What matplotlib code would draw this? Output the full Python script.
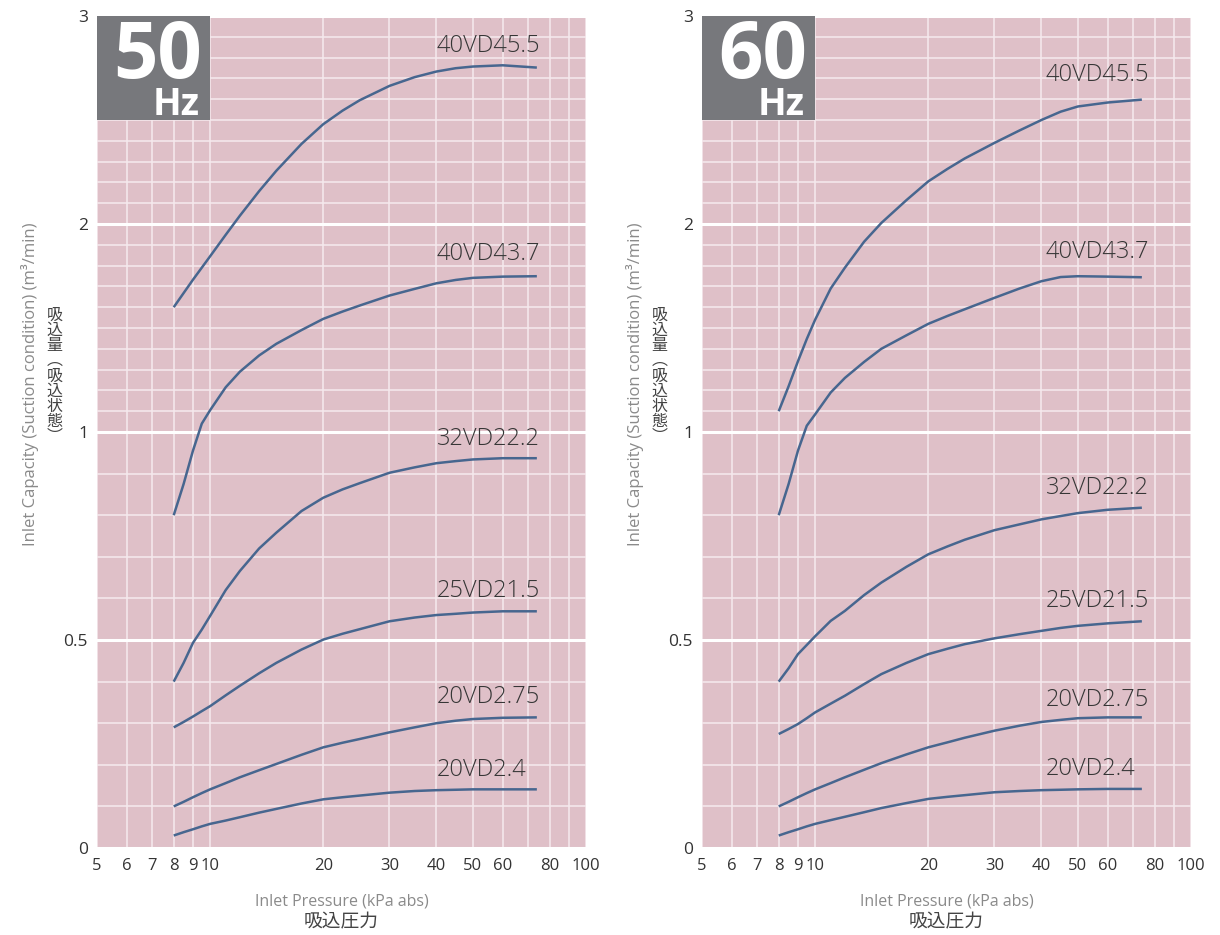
import numpy as np
import matplotlib
matplotlib.use("Agg")
import matplotlib.pyplot as plt
from matplotlib.patches import Rectangle
from matplotlib.ticker import FixedLocator, FixedFormatter

plt.rcParams['font.family'] = ['Open Sans', 'DejaVu Sans']

# ---------------- data ----------------
models = ["40VD45.5", "40VD43.7", "32VD22.2", "25VD21.5", "20VD2.75", "20VD2.4"]
pressure = [8, 8.5, 9, 9.5, 10, 11, 12, 13.5, 15, 17.5, 20, 22.5, 25, 30, 35, 40, 45, 50, 60, 74]  # kPa abs

# 50 Hz capacities (m3/min)
hz50_40VD455 = [1.60, 1.668, 1.732, 1.79, 1.845, 1.948, 2.04, 2.158, 2.256, 2.385,
                2.48, 2.545, 2.595, 2.664, 2.706, 2.733, 2.749, 2.757, 2.763, 2.752]
hz50_40VD437 = [0.80, 0.875, 0.955, 1.04, 1.105, 1.215, 1.29, 1.368, 1.424, 1.49,
                1.544, 1.579, 1.608, 1.656, 1.688, 1.715, 1.731, 1.741, 1.747, 1.749]
hz50_32VD222 = [0.40, 0.445, 0.493, 0.525, 0.558, 0.62, 0.666, 0.72, 0.758, 0.81,
                0.842, 0.862, 0.877, 0.902, 0.915, 0.925, 0.93, 0.934, 0.937, 0.937]
hz50_25VD215 = [0.29, 0.303, 0.316, 0.329, 0.341, 0.367, 0.39, 0.42, 0.445, 0.477,
                0.501, 0.515, 0.526, 0.545, 0.554, 0.560, 0.563, 0.566, 0.569, 0.569]
hz50_20VD275 = [0.10, 0.111, 0.122, 0.132, 0.141, 0.156, 0.170, 0.187, 0.202, 0.224,
                0.242, 0.253, 0.262, 0.278, 0.290, 0.300, 0.306, 0.310, 0.313, 0.314]
hz50_20VD24 = [0.03, 0.038, 0.045, 0.052, 0.058, 0.066, 0.074, 0.085, 0.094, 0.107,
               0.117, 0.122, 0.126, 0.133, 0.137, 0.139, 0.140, 0.141, 0.141, 0.141]

# 60 Hz capacities (m3/min)
hz60_40VD455 = [1.10, 1.22, 1.34, 1.447, 1.54, 1.69, 1.79, 1.915, 2.005, 2.115,
                2.205, 2.265, 2.315, 2.39, 2.45, 2.50, 2.54, 2.565, 2.584, 2.598]
hz60_40VD437 = [0.80, 0.875, 0.955, 1.03, 1.085, 1.19, 1.26, 1.337, 1.40, 1.465,
                1.52, 1.558, 1.59, 1.645, 1.69, 1.725, 1.745, 1.749, 1.747, 1.744]
hz60_32VD222 = [0.40, 0.432, 0.466, 0.488, 0.509, 0.546, 0.570, 0.608, 0.638, 0.676,
                0.706, 0.725, 0.741, 0.764, 0.778, 0.790, 0.798, 0.805, 0.813, 0.818]
hz60_25VD215 = [0.274, 0.286, 0.298, 0.312, 0.326, 0.347, 0.366, 0.394, 0.418, 0.445,
                0.466, 0.479, 0.490, 0.504, 0.514, 0.522, 0.529, 0.534, 0.540, 0.545]
hz60_20VD275 = [0.10, 0.111, 0.122, 0.132, 0.141, 0.156, 0.170, 0.188, 0.204, 0.225,
                0.242, 0.254, 0.265, 0.282, 0.294, 0.303, 0.308, 0.312, 0.314, 0.314]
hz60_20VD24 = [0.03, 0.038, 0.045, 0.052, 0.058, 0.067, 0.075, 0.086, 0.096, 0.108,
               0.118, 0.123, 0.127, 0.134, 0.137, 0.139, 0.140, 0.141, 0.142, 0.142]

x_ticks = [5, 6, 7, 8, 9, 10, 20, 30, 40, 50, 60, 70, 80, 90, 100]
x_ticklabels = ["5", "6", "7", "8", "9", "10", "20", "30", "40", "50", "60", "", "80", "", "100"]
y_ticks = [0, 0.5, 1, 2, 3]
y_ticklabels = ["0", "0.5", "1", "2", "3"]

# label layout (positions, not data)
label_x = [40, 41]
label_y50 = [2.828, 1.827, 0.969, 0.604, 0.348, 0.173]
label_y60 = [2.689, 1.835, 0.851, 0.579, 0.341, 0.175]

# ---------------- style ----------------
W, H = 1220, 935
BG = '#dfc0c8'
LINE = '#47668f'
BOX = '#77787c'
CJK = ['Noto Sans CJK JP', 'DejaVu Sans']

fig = plt.figure(figsize=(W / 100, H / 100), dpi=100)
fig.patch.set_facecolor('white')

yk = [0, 0.5, 1, 2, 3]
uk = [0, 1, 2, 3, 4]
def fwd(v):
    return np.interp(v, yk, uk)
def inv(u):
    return np.interp(u, uk, yk)

def make_axes(x0, y0, x1, y1):
    return fig.add_axes([x0 / W, 1 - y1 / H, (x1 - x0) / W, (y1 - y0) / H])

panels = [
    dict(px=(97, 16, 586, 848), hz="50", series=[hz50_40VD455, hz50_40VD437, hz50_32VD222,
                                                 hz50_25VD215, hz50_20VD275, hz50_20VD24],
         label_y=label_y50, lx=label_x[0]),
    dict(px=(702, 16, 1191, 848), hz="60", series=[hz60_40VD455, hz60_40VD437, hz60_32VD222,
                                                   hz60_25VD215, hz60_20VD275, hz60_20VD24],
         label_y=label_y60, lx=label_x[1]),
]

minor_y = [v for v in np.round(np.arange(0, 3.001, 0.1), 2) if v not in y_ticks]

for p in panels:
    x0, y0, x1, y1 = p['px']
    ax = make_axes(x0, y0, x1, y1)
    ax.set_facecolor(BG)
    ax.set_xscale('log')
    ax.set_yscale('function', functions=(fwd, inv))
    ax.set_xlim(5, 100)
    ax.set_ylim(0, 3)
    for s in ax.spines.values():
        s.set_visible(False)

    ax.xaxis.set_major_locator(FixedLocator(x_ticks))
    ax.xaxis.set_major_formatter(FixedFormatter(x_ticklabels))
    ax.xaxis.set_minor_locator(FixedLocator([]))
    ax.yaxis.set_major_locator(FixedLocator(y_ticks))
    ax.yaxis.set_major_formatter(FixedFormatter(y_ticklabels))
    ax.yaxis.set_minor_locator(FixedLocator(minor_y))

    ax.tick_params(axis='both', which='both', length=0)
    ax.tick_params(axis='x', pad=7, labelsize=12, labelcolor='#333333')
    ax.tick_params(axis='y', pad=6.5, labelsize=12.5, labelcolor='#333333')

    ax.set_axisbelow(True)
    ax.grid(axis='x', which='major', color='#f6eaee', lw=1.1)
    ax.grid(axis='y', which='minor', color='#f6eaee', lw=1.1)
    ax.grid(axis='y', which='major', color='white', lw=2.2)

    # Hz box
    ax.add_patch(Rectangle((5, 2.5), 5, 0.5, facecolor=BOX, edgecolor='none', zorder=3))
    ax.annotate(p['hz'], xy=(10, 3), xycoords='data', xytext=(-8, -2),
                textcoords='offset pixels', ha='right', va='top', color='white',
                fontsize=56, fontweight='bold', zorder=4)
    ax.annotate("Hz", xy=(10, 2.5), xycoords='data', xytext=(-11, 5),
                textcoords='offset pixels', ha='right', va='baseline', color='white',
                fontsize=27, fontweight='bold', zorder=4)

    for name, vals, ly in zip(models, p['series'], p['label_y']):
        ax.plot(pressure, vals, color=LINE, lw=1.8, solid_capstyle='butt', zorder=5)
        ax.text(p['lx'], ly, name, ha='left', va='baseline', fontsize=17,
                fontweight='light', color='#363636', zorder=6)

    # axis titles
    cx = (x0 + x1) / 2
    fig.text(cx / W, 1 - 901.7 / H, "Inlet Pressure (kPa abs)", ha='center', va='center',
             fontsize=11.5, color='#8a8a8a')
    fig.text(cx / W, 1 - 922 / H, "吸込圧力", ha='center', va='center',
             fontsize=13.5, color='#444444', family=CJK)
    fig.text((x0 - 67) / W, 1 - 384 / H, "Inlet Capacity (Suction condition) (m³/min)",
             rotation=90, ha='center', va='center', fontsize=12, color='#8a8a8a')
    fig.text((x0 - 42.5) / W, 1 - 376 / H, "\n".join(list("吸込量︵吸込状態︶")),
             ha='center', va='center', fontsize=11.5, color='#444444', family=CJK,
             linespacing=0.86)

fig.savefig("out.png", dpi=100, facecolor='white')
